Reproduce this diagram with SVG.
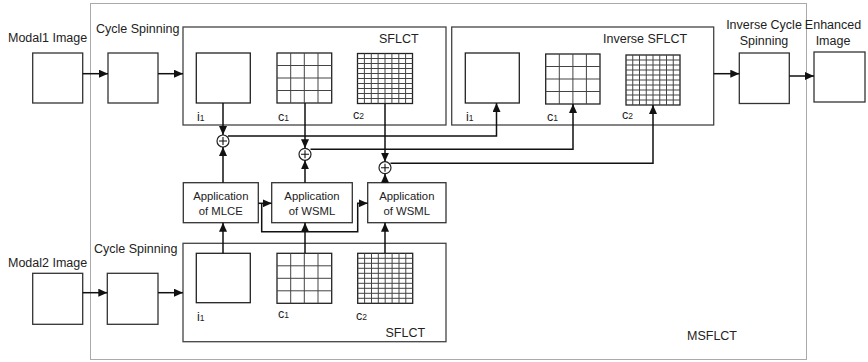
<svg xmlns="http://www.w3.org/2000/svg" width="868" height="362" viewBox="0 0 868 362">
<defs>
<marker id="ah" markerWidth="10" markerHeight="8" refX="9" refY="4" orient="auto" markerUnits="userSpaceOnUse">
<path d="M0,0 L9,4 L0,8 Z" fill="#111"/>
</marker>
<style>
text{font-family:"Liberation Sans",Arial,sans-serif;fill:#222}
.lbl{font-size:12.5px}
.app{font-size:11.3px}
.sub{font-size:8.5px}
.box{fill:#fff;stroke:#333;stroke-width:1.3}
.frame{fill:none;stroke:#444;stroke-width:1.3}
.sq{fill:#fff;stroke:#222;stroke-width:1.3}
.gl{stroke:#444;stroke-width:1}
.pl{stroke:#111;stroke-width:1.1}
.arr{fill:none;stroke:#111;stroke-width:1.5;marker-end:url(#ah)}
.dot{fill:none;stroke:#555;stroke-width:1;stroke-dasharray:1 1}
.plus{fill:#fff;stroke:#222;stroke-width:1.2}
</style>
</defs>
<rect fill="#fff" width="868" height="362"/>

<g id="msflct">
<rect class="dot" x="90.5" y="3.5" width="716" height="356"/>
<text class="lbl" x="687" y="340">MSFLCT</text>
</g>

<g id="modal1">
<text class="lbl" x="8" y="42">Modal1 Image</text>
<rect class="box" x="32.7" y="53" width="50" height="50"/>
</g>
<g id="cs1">
<text class="lbl" x="96" y="33">Cycle Spinning</text>
<rect class="box" x="108" y="53" width="50" height="50"/>
</g>

<g id="sflct1">
<rect class="frame" x="183" y="27" width="263" height="98"/>
<text class="lbl" x="379" y="43">SFLCT</text>
<rect class="sq" x="196.3" y="53" width="54" height="50"/>
<text class="lbl" x="197" y="121">i<tspan class="sub">1</tspan></text>
<g>
<rect class="sq" x="277" y="53" width="54.7" height="50"/>
<path class="gl" d="M290.7,53V103M304.3,53V103M318,53V103M277,65.5H331.7M277,78H331.7M277,90.5H331.7"/>
</g>
<text class="lbl" x="278" y="121">c<tspan class="sub">1</tspan></text>
<g>
<rect class="sq" x="357.5" y="53.5" width="55" height="50"/>
<path class="gl" d="M364.4,53.5V103.5M371.3,53.5V103.5M378.1,53.5V103.5M385,53.5V103.5M391.9,53.5V103.5M398.8,53.5V103.5M405.6,53.5V103.5M357.5,58.5H412.5M357.5,63.5H412.5M357.5,68.5H412.5M357.5,73.5H412.5M357.5,78.5H412.5M357.5,83.5H412.5M357.5,88.5H412.5M357.5,93.5H412.5M357.5,98.5H412.5"/>
</g>
<text class="lbl" x="353" y="119">c<tspan class="sub">2</tspan></text>
</g>

<g id="isflct">
<rect class="frame" x="451.7" y="27" width="262" height="98"/>
<text class="lbl" x="603" y="43">Inverse SFLCT</text>
<rect class="sq" x="465.3" y="53" width="54" height="50"/>
<text class="lbl" x="466" y="121">i<tspan class="sub">1</tspan></text>
<g>
<rect class="sq" x="545.7" y="54" width="54.3" height="50"/>
<path class="gl" d="M559.3,54V104M572.9,54V104M586.4,54V104M545.7,66.5H600M545.7,79H600M545.7,91.5H600"/>
</g>
<text class="lbl" x="547" y="121">c<tspan class="sub">1</tspan></text>
<g>
<rect class="sq" x="626" y="55" width="54" height="50"/>
<path class="gl" d="M632.75,55V105M639.5,55V105M646.25,55V105M653,55V105M659.75,55V105M666.5,55V105M673.25,55V105M626,60H680M626,65H680M626,70H680M626,75H680M626,80H680M626,85H680M626,90H680M626,95H680M626,100H680"/>
</g>
<text class="lbl" x="622" y="119">c<tspan class="sub">2</tspan></text>
</g>

<g id="ics">
<text class="lbl" x="764" y="29" text-anchor="middle">Inverse Cycle</text>
<text class="lbl" x="764" y="45" text-anchor="middle">Spinning</text>
<rect class="box" x="739.3" y="53" width="50" height="50.5"/>
</g>
<g id="enhanced">
<text class="lbl" x="833" y="29" text-anchor="middle">Enhanced</text>
<text class="lbl" x="833" y="45" text-anchor="middle">Image</text>
<rect class="box" x="814" y="52" width="51" height="50"/>
</g>

<g id="modal2">
<text class="lbl" x="8" y="267">Modal2 Image</text>
<rect class="box" x="32.7" y="273.3" width="50" height="51"/>
</g>
<g id="cs2">
<text class="lbl" x="94" y="253">Cycle Spinning</text>
<rect class="box" x="107.3" y="273.3" width="50.7" height="51"/>
</g>

<g id="sflct2">
<rect class="frame" x="183" y="243.3" width="263" height="98.4"/>
<text class="lbl" x="385.5" y="337">SFLCT</text>
<rect class="sq" x="196.3" y="253.3" width="54" height="49.4"/>
<text class="lbl" x="197" y="321">i<tspan class="sub">1</tspan></text>
<g>
<rect class="sq" x="277" y="253.3" width="54.7" height="50"/>
<path class="gl" d="M290.7,253.3V303.3M304.3,253.3V303.3M318,253.3V303.3M277,265.8H331.7M277,278.3H331.7M277,290.8H331.7"/>
</g>
<text class="lbl" x="278" y="318">c<tspan class="sub">1</tspan></text>
<g>
<rect class="sq" x="357.7" y="253.3" width="55" height="50"/>
<path class="gl" d="M364.6,253.3V303.3M371.5,253.3V303.3M378.3,253.3V303.3M385.2,253.3V303.3M392.1,253.3V303.3M399,253.3V303.3M405.8,253.3V303.3M357.7,258.3H412.7M357.7,263.3H412.7M357.7,268.3H412.7M357.7,273.3H412.7M357.7,278.3H412.7M357.7,283.3H412.7M357.7,288.3H412.7M357.7,293.3H412.7M357.7,298.3H412.7"/>
</g>
<text class="lbl" x="356" y="320">c<tspan class="sub">2</tspan></text>
</g>

<g id="mlce">
<rect class="box" x="183.3" y="182.7" width="75" height="40"/>
<text class="app" x="220.8" y="200" text-anchor="middle">Application</text>
<text class="app" x="220.8" y="214.5" text-anchor="middle">of MLCE</text>
</g>
<g id="wsml1">
<rect class="box" x="271.7" y="182.7" width="80.6" height="40"/>
<text class="app" x="312" y="200" text-anchor="middle">Application</text>
<text class="app" x="312" y="214.5" text-anchor="middle">of WSML</text>
</g>
<g id="wsml2">
<rect class="box" x="367.7" y="182.7" width="78.3" height="40"/>
<text class="app" x="406.8" y="200" text-anchor="middle">Application</text>
<text class="app" x="406.8" y="214.5" text-anchor="middle">of WSML</text>
</g>

<g id="plus1"><circle class="plus" cx="223" cy="141" r="6"/><path class="pl" d="M219,141H227M223,137V145"/></g>
<g id="plus2"><circle class="plus" cx="305" cy="154.3" r="6"/><path class="pl" d="M301,154.3H309M305,150.3V158.3"/></g>
<g id="plus3"><circle class="plus" cx="385" cy="167.7" r="6"/><path class="pl" d="M381,167.7H389M385,163.7V171.7"/></g>

<g id="connectors">
<path class="arr" d="M82.7,73.7H108"/>
<path class="arr" d="M158,73.7H183"/>
<path class="arr" d="M713.7,73.7H739.3"/>
<path class="arr" d="M789.3,76H814"/>
<path class="arr" d="M82.7,292.7H107.3"/>
<path class="arr" d="M158,292.7H183"/>

<path class="arr" d="M223,103V135"/>
<path class="arr" d="M305,103V148.3"/>
<path class="arr" d="M385,103.5V161.7"/>

<path class="arr" d="M228,136H496.5V103"/>
<path class="arr" d="M310.5,149.3H573V104"/>
<path class="arr" d="M390.5,163.3H653V105"/>

<path class="arr" d="M223,182.7V147"/>
<path class="arr" d="M305,182.7V160.3"/>
<path class="arr" d="M385,182.7V173.7"/>

<path class="arr" d="M223,253.3V222.7"/>
<path class="arr" d="M305,253.3V222.7"/>
<path class="arr" d="M385,253.3V222.7"/>

<path class="arr" d="M258.3,203.3H271.7"/>
<path class="arr" d="M261.7,203.3V231.7H357.7V203.3H367.7"/>
</g>
</svg>
